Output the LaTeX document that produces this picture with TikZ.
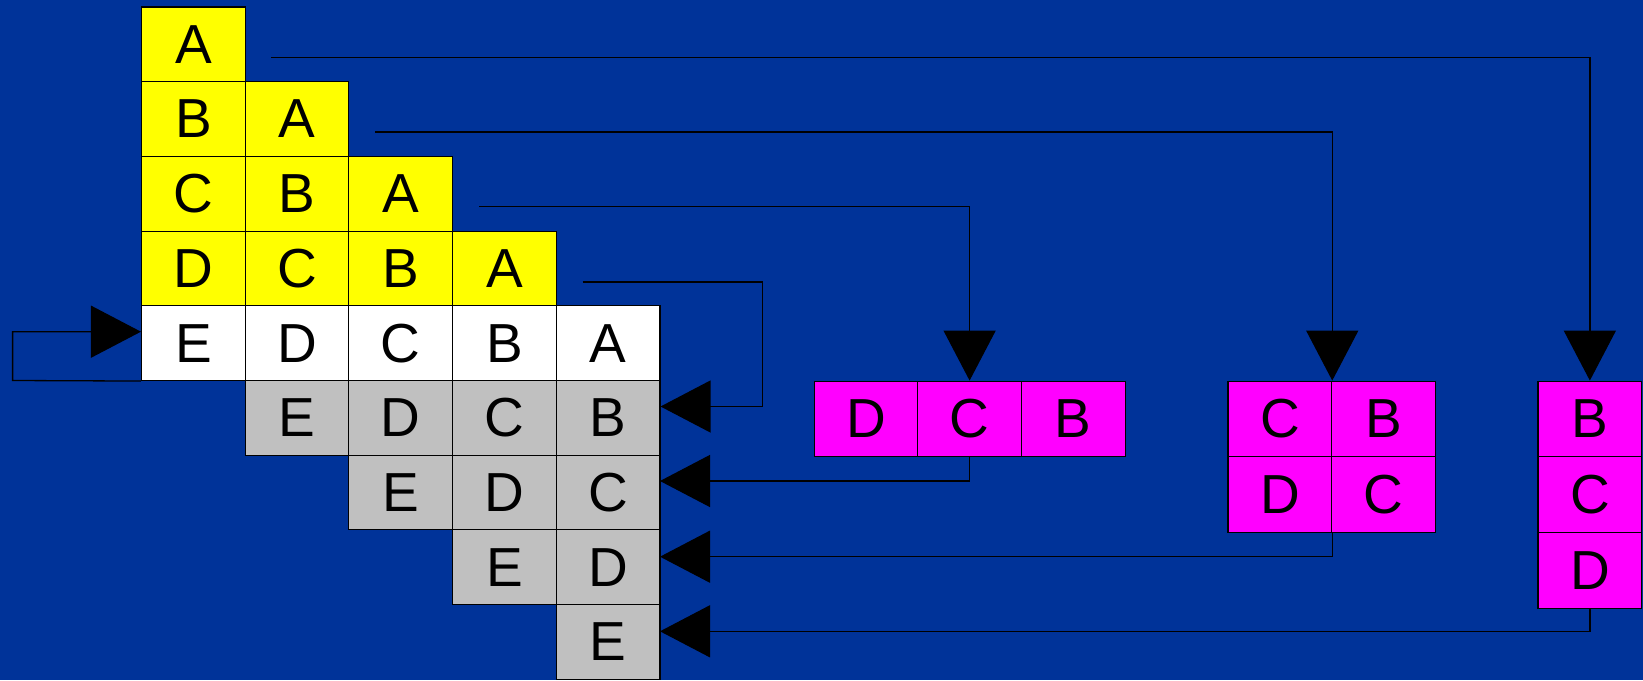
\documentclass[tikz,border=0pt]{standalone}
\usepackage{fontspec}
\setmainfont{Liberation Sans}
\usetikzlibrary{arrows.meta}
\definecolor{bgblue}{RGB}{0,51,153}
\definecolor{ycell}{RGB}{255,255,0}
\definecolor{mcell}{RGB}{255,0,255}
\definecolor{gcell}{RGB}{192,192,192}
\begin{document}
\begin{tikzpicture}[x=1pt,y=-1pt,
  cell/.style={draw=black, line width=1.1pt, minimum width=103.7pt, minimum height=74.7pt, inner sep=0pt, font=\fontsize{55}{60}\selectfont},
  yc/.style={cell, fill=ycell},
  wc/.style={cell, fill=white},
  gc/.style={cell, fill=gcell},
  mc/.style={cell, fill=mcell, minimum height=75.7pt},
  conn/.style={draw=black, line width=1.3pt},
  tip/.style={-{Triangle[length=50pt,width=52pt]}}
]
\fill[bgblue] (0,0) rectangle (1643,680);
\useasboundingbox (0,0) rectangle (1643,680);

\foreach \r/\c/\l/\s in {
  0/0/A/yc,
  1/0/B/yc, 1/1/A/yc,
  2/0/C/yc, 2/1/B/yc, 2/2/A/yc,
  3/0/D/yc, 3/1/C/yc, 3/2/B/yc, 3/3/A/yc,
  4/0/E/wc, 4/1/D/wc, 4/2/C/wc, 4/3/B/wc, 4/4/A/wc,
  5/1/E/gc, 5/2/D/gc, 5/3/C/gc, 5/4/B/gc,
  6/2/E/gc, 6/3/D/gc, 6/4/C/gc,
  7/3/E/gc, 7/4/D/gc,
  8/4/E/gc}
  \node[\s] (g\r\c) at ({141.5+103.7*\c+51.85},{7+74.7*\r+37.35}) {\l};

% magenta boxes
\node[mc] (m1a) at (865.9,419) {D};
\node[mc] (m1b) at (969.6,419) {C};
\node[mc] (m1c) at (1073.3,419) {B};

\node[mc] (m2a) at (1279.85,419) {C};
\node[mc] (m2b) at (1383.55,419) {B};
\node[mc] (m2c) at (1279.85,494.7) {D};
\node[mc] (m2d) at (1383.55,494.7) {C};

\node[mc] (m3a) at (1589.85,419) {B};
\node[mc] (m3b) at (1589.85,494.7) {C};
\node[mc] (m3c) at (1589.85,570.4) {D};

% connectors
\coordinate (s0) at (271,57.6);
\coordinate (s1) at (375,132);
\coordinate (s2) at (479,206.4);
\coordinate (s3) at (582.6,281.9);
\coordinate (k3) at (762.8,406.5);
\coordinate (t6) at (660,481);
\coordinate (t7) at (660,556.7);
\coordinate (t8) at (660,631.3);
\coordinate (lp) at (12.6,380.5);
\coordinate (lq) at (12.6,331.7);

\draw[conn,tip] (s0) -| (m3a.north);
\draw[conn,tip] (s1) -| (m2a.north east);
\draw[conn,tip] (s2) -| (m1b.north);
\draw[conn,tip] (s3) -| (k3) -- (k3 -| g54.east);
\draw[conn,tip] (m1b.south) |- (t6);
\draw[conn,tip] (m2a.south east |- m2c.south east) |- (t7);
\draw[conn,tip] (m3c.south) |- (t8);
\draw[conn,tip] (g40.south west) -- (lp) -- (lq) -- (lq -| g40.west);
\end{tikzpicture}
\end{document}
